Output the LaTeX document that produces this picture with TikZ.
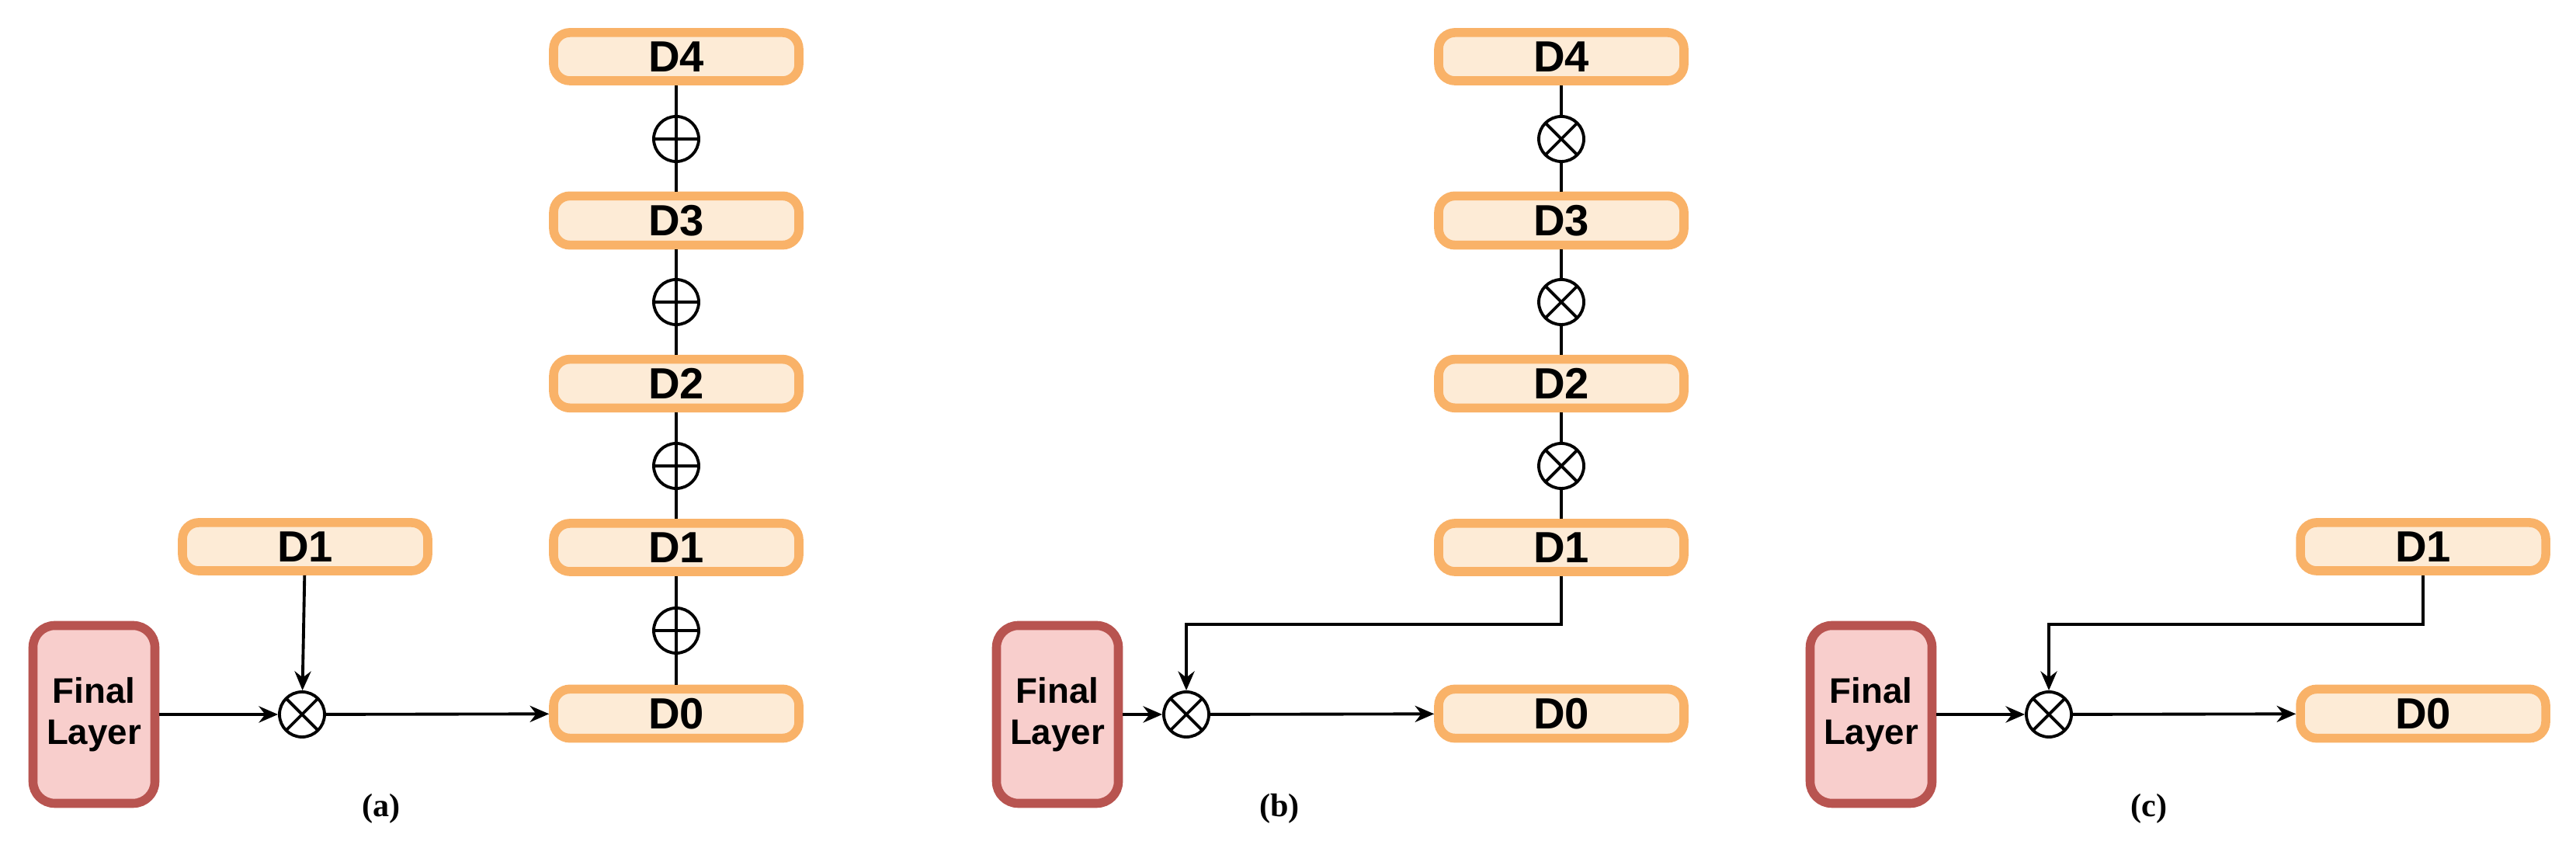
\documentclass[tikz,border=0pt]{standalone}
\usepackage{fontspec}
\setmainfont{Liberation Sans}
\newfontfamily\capfont{Liberation Serif}
\usetikzlibrary{arrows.meta, positioning}
\definecolor{dborder}{HTML}{F9B268}
\definecolor{dfill}{HTML}{FDEBD6}
\definecolor{fborder}{HTML}{B85450}
\definecolor{ffill}{HTML}{F8CECC}
\begin{document}
\begin{tikzpicture}[
  dblock/.style={rectangle, rounded corners=6pt, draw=dborder, fill=dfill, line width=3.3pt,
    minimum width=3.16cm, minimum height=0.62cm, font=\fontsize{16}{18}\selectfont\bfseries},
  final/.style={rectangle, rounded corners=8pt, draw=fborder, fill=ffill, line width=3.3pt,
    minimum width=1.57cm, minimum height=2.29cm, align=center, font=\fontsize{13}{15}\selectfont\bfseries},
  opplus/.style={circle, draw, line width=1.1pt, minimum size=0.58cm, inner sep=0pt, fill=white,
    path picture={\draw[line width=1.1pt] (path picture bounding box.north) -- (path picture bounding box.south)
      (path picture bounding box.west) -- (path picture bounding box.east);}},
  optimes/.style={circle, draw, line width=1.1pt, minimum size=0.58cm, inner sep=0pt, fill=white,
    path picture={\draw[line width=1.1pt] (path picture bounding box.north west) -- (path picture bounding box.south east)
      (path picture bounding box.south west) -- (path picture bounding box.north east);}},
  link/.style={line width=1.4pt},
  flow/.style={-{Stealth[length=7pt,width=6pt]}, line width=1.1pt},
  caption/.style={font=\capfont\fontsize{12}{14}\selectfont\bfseries}
]
\useasboundingbox (0,0) rectangle (33.18,11.01);

% Panel (a)
\node[final] (Fa) at (1.21,1.81) {Final\\Layer};
\node[dblock] (Sa) at (3.93,3.97) {D1};
\node[optimes] (Ma) at (3.89,1.81) {};
\node[dblock] (A0) at (8.71,1.82) {D0};
\node[dblock] (A1) at (8.71,3.96) {D1};
\node[dblock] (A2) at (8.71,6.07) {D2};
\node[dblock] (A3) at (8.71,8.17) {D3};
\node[dblock] (A4) at (8.71,10.28) {D4};
\node[opplus] (Pa1) at (8.71,2.89) {};
\node[opplus] (Pa2) at (8.71,5.01) {};
\node[opplus] (Pa3) at (8.71,7.12) {};
\node[opplus] (Pa4) at (8.71,9.22) {};
\draw[link] (A0) -- (Pa1) -- (A1) -- (Pa2) -- (A2) -- (Pa3) -- (A3) -- (Pa4) -- (A4);
\draw[flow] (Fa) -- (Ma);
\draw[flow] (Sa) -- (Ma);
\draw[flow] (Ma) -- (A0);
\node[caption] (la) at (4.91,0.60) {(a)};

% Panel (b)
\node[final] (Fb) at (13.62,1.81) {Final\\Layer};
\node[optimes] (Mb) at (15.28,1.81) {};
\node[dblock] (B0) at (20.11,1.82) {D0};
\node[dblock] (B1) at (20.11,3.96) {D1};
\node[dblock] (B2) at (20.11,6.07) {D2};
\node[dblock] (B3) at (20.11,8.17) {D3};
\node[dblock] (B4) at (20.11,10.28) {D4};
\node[optimes] (Tb1) at (20.11,5.01) {};
\node[optimes] (Tb2) at (20.11,7.12) {};
\node[optimes] (Tb3) at (20.11,9.22) {};
\draw[link] (B1) -- (Tb1) -- (B2) -- (Tb2) -- (B3) -- (Tb3) -- (B4);
\coordinate (Eb) at (20.11,2.97);
\draw[flow] (B1) -- (Eb) -| (Mb);
\draw[flow] (Fb) -- (Mb);
\draw[flow] (Mb) -- (B0);
\node[caption] (lb) at (16.48,0.60) {(b)};

% Panel (c)
\node[final] (Fc) at (24.10,1.81) {Final\\Layer};
\node[optimes] (Mc) at (26.39,1.81) {};
\node[dblock] (C0) at (31.21,1.82) {D0};
\node[dblock] (C1) at (31.21,3.97) {D1};
\coordinate (Ec) at (31.21,2.97);
\draw[flow] (C1) -- (Ec) -| (Mc);
\draw[flow] (Fc) -- (Mc);
\draw[flow] (Mc) -- (C0);
\node[caption] (lc) at (27.68,0.60) {(c)};
\end{tikzpicture}
\end{document}
